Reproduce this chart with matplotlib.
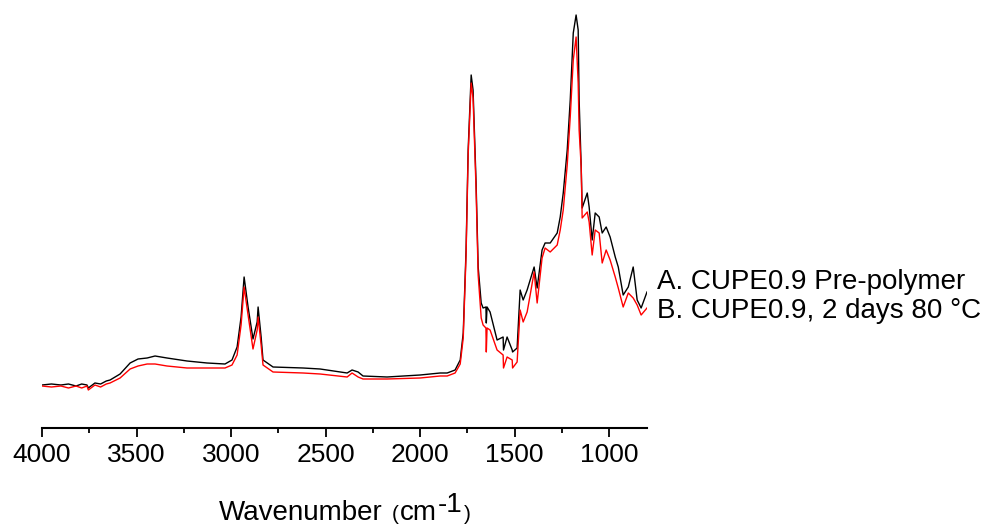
import matplotlib
matplotlib.use("Agg")
import matplotlib.pyplot as plt
from matplotlib.ticker import MultipleLocator

plt.rcParams['font.family'] = ['Liberation Sans', 'DejaVu Sans']

# Wavenumber grid (cm^-1) and absorbance (arb. units)
wavenumber = [4000, 3950, 3900, 3860, 3820, 3790, 3762, 3755, 3720, 3690, 3660, 3640,
              3587, 3534, 3492, 3444, 3402, 3339, 3233, 3127, 3032, 2995, 2968,
              2947, 2931, 2910, 2884, 2862, 2857, 2841, 2831, 2778, 2619, 2529,
              2386, 2360, 2328, 2302, 2175, 2000, 1894, 1857, 1815, 1788, 1772,
              1757, 1746, 1730, 1720, 1704, 1693, 1677, 1667, 1652, 1650, 1646,
              1630, 1593, 1561, 1559, 1540, 1513, 1511, 1487, 1471, 1455, 1434,
              1418, 1397, 1381, 1355, 1339, 1312, 1275, 1259, 1243, 1222, 1206,
              1190, 1175, 1164, 1159, 1148, 1143, 1116, 1106, 1090, 1074, 1053,
              1037, 1016, 995, 968, 952, 926, 899, 873, 852, 831, 800]

absorbance_A = [0.43, 0.44, 0.43, 0.44, 0.42, 0.44, 0.43, 0.40, 0.45, 0.44, 0.47, 0.48,
                0.54, 0.65, 0.69, 0.70, 0.72, 0.70, 0.67, 0.65, 0.64, 0.68, 0.81,
                1.11, 1.51, 1.21, 0.89, 1.06, 1.21, 0.91, 0.68, 0.61, 0.60, 0.59,
                0.55, 0.58, 0.56, 0.52, 0.51, 0.53, 0.55, 0.55, 0.58, 0.68, 0.95,
                1.78, 2.78, 3.53, 3.38, 2.45, 1.61, 1.25, 1.20, 1.21, 1.05, 1.21,
                1.16, 0.88, 0.91, 0.78, 0.91, 0.78, 0.76, 0.80, 1.38, 1.28, 1.38,
                1.48, 1.61, 1.40, 1.78, 1.85, 1.85, 1.95, 2.11, 2.35, 2.78, 3.28,
                3.95, 4.13, 3.98, 3.28, 2.61, 2.20, 2.35, 2.21, 1.88, 2.15, 2.11,
                1.95, 2.01, 1.91, 1.71, 1.61, 1.33, 1.41, 1.61, 1.28, 1.20, 1.36]

absorbance_B = [0.42, 0.41, 0.42, 0.40, 0.42, 0.40, 0.42, 0.38, 0.43, 0.41, 0.44, 0.45,
                0.50, 0.59, 0.62, 0.64, 0.64, 0.62, 0.60, 0.60, 0.60, 0.63, 0.73,
                1.03, 1.41, 1.13, 0.79, 0.98, 1.11, 0.83, 0.63, 0.56, 0.55, 0.54,
                0.51, 0.55, 0.51, 0.49, 0.49, 0.50, 0.52, 0.52, 0.55, 0.64, 0.90,
                1.73, 2.73, 3.45, 3.30, 2.38, 1.53, 1.10, 1.03, 1.00, 0.76, 1.00,
                0.98, 0.78, 0.73, 0.60, 0.71, 0.68, 0.60, 0.66, 1.18, 1.06, 1.16,
                1.33, 1.56, 1.25, 1.70, 1.80, 1.76, 1.83, 1.98, 2.18, 2.63, 3.11,
                3.68, 3.91, 3.45, 2.98, 2.61, 2.10, 2.16, 2.06, 1.73, 1.98, 1.95,
                1.65, 1.78, 1.68, 1.51, 1.40, 1.21, 1.35, 1.30, 1.23, 1.13, 1.20]

label_A = "A. CUPE0.9 Pre-polymer"
label_B = "B. CUPE0.9, 2 days 80 \u00b0C"
major_ticks = [4000, 3500, 3000, 2500, 2000, 1500, 1000]

W, H = 989, 525
fig = plt.figure(figsize=(W / 100, H / 100), dpi=100)
ax = fig.add_axes([42 / W, (H - 428) / H, 605 / W, 418 / H])

ax.plot(wavenumber, absorbance_A, color='black', lw=1.0)
ax.plot(wavenumber, absorbance_B, color='red', lw=1.0)

ax.set_xlim(4000, 800)
ax.set_ylim(0, 4.18)
ax.set_xticks(major_ticks)
ax.set_xticklabels([str(t) for t in major_ticks])
ax.xaxis.set_minor_locator(MultipleLocator(250))
ax.tick_params(axis='x', which='major', direction='out', length=6.5, width=1.3,
               labelsize=19, pad=4)
ax.tick_params(axis='x', which='minor', direction='out', length=3.5, width=1.3)
ax.set_yticks([])
for s in ['top', 'right', 'left']:
    ax.spines[s].set_visible(False)
ax.spines['bottom'].set_linewidth(1.5)

# X-axis title assembled from pieces (smaller parentheses, raised "-1")
pieces = [("Wavenumber", 20, 0), (" ", 20, 0), ("(", 15, 0), ("cm", 20, 0),
          ("-1", 20, 8), (")", 15, 0)]
renderer = fig.canvas.get_renderer()
baseline_px = H - 520
texts = []
x_px = 0.0
for s, size, rise in pieces:
    t = fig.text(0, 0, s, fontsize=size, va='baseline', ha='left')
    if s == " ":
        w = 0.278 * size * 100 / 72
    else:
        w = t.get_window_extent(renderer).width
    texts.append((t, x_px, rise))
    x_px += w + 1
total = x_px - 1
start = (42 + 647) / 2 - total / 2
for t, off, rise in texts:
    t.set_position(((start + off) / W, (baseline_px + rise) / H))

fig.text(657 / W, (H - 289) / H, label_A, fontsize=20, va='baseline', ha='left')
fig.text(657 / W, (H - 318) / H, label_B, fontsize=20, va='baseline', ha='left')

fig.savefig('out.png', dpi=100)
